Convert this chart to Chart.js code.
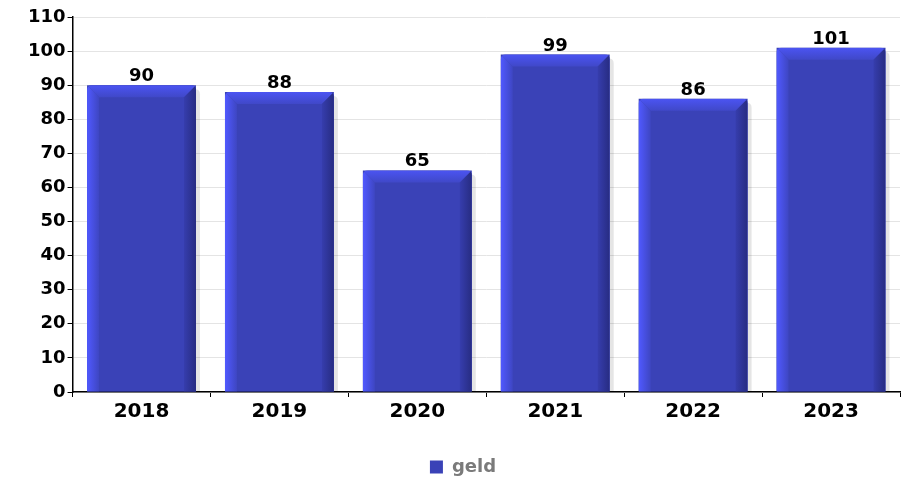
<!DOCTYPE html>
<html>
<head>
<meta charset="utf-8">
<script src="https://cdn.jsdelivr.net/npm/chart.js@4"></script>
<style>
  html, body { margin: 0; padding: 0; background: #fff; }
  #wrap { width: 915px; height: 481px; }
</style>
</head>
<body>
<div id="wrap"><canvas id="geldChart" width="915" height="481"></canvas></div>
<script>
// Data
const years = ['2018', '2019', '2020', '2021', '2022', '2023'];
const geldData = [90, 88, 65, 99, 86, 101];
const yTicks = [0, 10, 20, 30, 40, 50, 60, 70, 80, 90, 100, 110];

const FONT = '"DejaVu Sans", sans-serif';

function barPath(ctx, left, right, top, base, r) {
  ctx.beginPath();
  ctx.moveTo(left, base);
  ctx.lineTo(left, top + r);
  ctx.quadraticCurveTo(left, top, left + r, top);
  ctx.lineTo(right - r, top);
  ctx.quadraticCurveTo(right, top, right, top + r);
  ctx.lineTo(right, base);
  ctx.closePath();
}

// bevel + shadow look of the bars
const bevelPlugin = {
  id: 'bevel',
  beforeDatasetsDraw(chart) {
    const ctx = chart.ctx;
    chart.getDatasetMeta(0).data.forEach(bar => {
      const left = bar.x - bar.width / 2;
      const right = left + bar.width;
      ctx.save();
      ctx.fillStyle = 'rgba(0,0,0,0.10)';
      barPath(ctx, left + 4, right + 4, bar.y + 4, bar.base, 5);
      ctx.fill();
      ctx.restore();
    });
  },
  afterDatasetsDraw(chart) {
    const ctx = chart.ctx;
    chart.getDatasetMeta(0).data.forEach(bar => {
      const left = bar.x - bar.width / 2;
      const right = left + bar.width;
      const top = bar.y;
      const base = bar.base;
      const e = 12;
      ctx.save();
      barPath(ctx, left, right, top, base, 5);
      ctx.clip();
      ctx.fillStyle = '#3a42b7';
      ctx.fillRect(left, top, right - left, base - top);
      // top bevel
      let g = ctx.createLinearGradient(0, top, 0, top + e);
      g.addColorStop(0, '#4b54f2');
      g.addColorStop(1, '#4048c8');
      ctx.fillStyle = g;
      ctx.beginPath();
      ctx.moveTo(left, top);
      ctx.lineTo(right, top);
      ctx.lineTo(right - e, top + e);
      ctx.lineTo(left + e, top + e);
      ctx.closePath();
      ctx.fill();
      // left light edge
      g = ctx.createLinearGradient(left, 0, left + e, 0);
      g.addColorStop(0, '#5059ff');
      g.addColorStop(1, '#3e46c2');
      ctx.fillStyle = g;
      ctx.beginPath();
      ctx.moveTo(left, top);
      ctx.lineTo(left + e, top + e);
      ctx.lineTo(left + e, base);
      ctx.lineTo(left, base);
      ctx.closePath();
      ctx.fill();
      // right dark edge
      g = ctx.createLinearGradient(right - e, 0, right, 0);
      g.addColorStop(0, '#363dad');
      g.addColorStop(1, '#272c82');
      ctx.fillStyle = g;
      ctx.beginPath();
      ctx.moveTo(right, top);
      ctx.lineTo(right - e, top + e);
      ctx.lineTo(right - e, base);
      ctx.lineTo(right, base);
      ctx.closePath();
      ctx.fill();
      ctx.restore();
    });
  },
  afterDraw(chart) {
    const ctx = chart.ctx;
    ctx.save();
    ctx.font = 'bold 18px ' + FONT;
    ctx.fillStyle = '#000';
    ctx.textAlign = 'center';
    ctx.textBaseline = 'alphabetic';
    chart.getDatasetMeta(0).data.forEach((bar, i) => {
      ctx.fillText(String(geldData[i]), bar.x, bar.y - 4);
    });
    ctx.restore();
  }
};

const ctx = document.getElementById('geldChart').getContext('2d');
new Chart(ctx, {
  type: 'bar',
  data: {
    labels: years,
    datasets: [{
      label: 'geld',
      data: geldData,
      backgroundColor: '#3a42b7',
      borderWidth: 0,
      barPercentage: 0.79,
      categoryPercentage: 1.0
    }]
  },
  options: {
    responsive: false,
    animation: false,
    layout: { padding: { top: 17, right: 15, left: 26, bottom: -5 } },
    plugins: {
      tooltip: { enabled: false },
      legend: {
        position: 'bottom',
        labels: {
          font: { family: FONT, size: 18, weight: 'bold' },
          color: '#7a7a7a',
          boxWidth: 13,
          boxHeight: 13,
          padding: 31
        }
      }
    },
    scales: {
      x: {
        offset: true,
        grid: {
          display: true,
          drawOnChartArea: false,
          offset: true,
          tickLength: 5,
          tickColor: '#000'
        },
        border: { color: '#000', width: 1.5 },
        ticks: {
          font: { family: FONT, size: 20, weight: 'bold' },
          color: '#000',
          padding: 3
        }
      },
      y: {
        min: 0,
        max: 110,
        afterBuildTicks(axis) {
          axis.ticks = yTicks.map(v => ({ value: v }));
        },
        grid: {
          color: '#e4e4e4',
          tickColor: '#000',
          tickLength: 5
        },
        border: { color: '#000', width: 1.5 },
        ticks: {
          font: { family: FONT, size: 18, weight: 'bold' },
          color: '#000',
          padding: 2
        }
      }
    }
  },
  plugins: [bevelPlugin]
});
</script>
</body>
</html>
